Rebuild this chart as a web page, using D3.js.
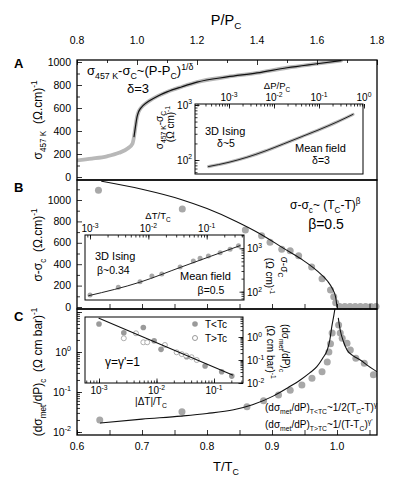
<!DOCTYPE html>
<html>
<head><meta charset="utf-8"></head>
<style>
  html, body { margin: 0; background: #fff; }
  svg { display: block; font-family: "Liberation Sans", Arial, sans-serif; }
</style>
<body>
<svg width="395" height="478"></svg>
<script src="https://cdnjs.cloudflare.com/ajax/libs/d3/7.8.5/d3.min.js"></script>
<script>
// ---- panel A: sigma(457 K) vs P/Pc
const aP   = [0.80, 0.85, 0.90, 0.94, 0.97, 0.985, 0.99, 0.995, 1.0, 1.005, 1.01, 1.02, 1.04, 1.07, 1.10, 1.15, 1.2, 1.3, 1.4, 1.5, 1.6, 1.68];
const aSig = [145, 160, 180, 210, 250, 290, 350, 440, 520, 565, 590, 620, 660, 705, 740, 785, 825, 870, 905, 950, 985, 1012];
// inset A: log-log
const iaDP  = [3.5e-4, 1e-3, 2.5e-3, 6.3e-3, 0.016, 0.04, 0.1, 0.25, 0.57];
const iaSig = [76, 91, 112, 145, 195, 263, 355, 490, 676];

// ---- panel B: sigma - sigma_c vs T/Tc
const bT   = [0.633, 0.762, 0.859, 0.884, 0.897, 0.915, 0.928, 0.941, 0.961, 0.977, 0.990, 0.995, 0.998, 1.004, 1.012, 1.020, 1.028, 1.036, 1.044, 1.052, 1.060];
const bSig = [1090, 915, 720, 665, 605, 540, 525, 480, 375, 265, 160, 95, 40, 5, 5, 5, 5, 5, 5, 5, 5];
const bFitT = [0.638, 0.70, 0.76, 0.80, 0.845, 0.88, 0.918, 0.945, 0.969, 0.985, 0.993, 0.998, 1.0];
const bFitS = [1175, 1100, 1005, 920, 800, 690, 548, 448, 340, 245, 170, 90, 0];
// inset B
const ibDT  = [1e-3, 3.06e-3, 7.2e-3, 0.0115, 0.017, 0.035, 0.059, 0.077, 0.107, 0.17, 0.252, 0.351];
const ibSig = [84, 126, 170, 229, 257, 372, 513, 589, 661, 794, 955, 1148];
const ibFitDT = [9.5e-4, 7.2e-3, 0.037, 0.37];
const ibFitS  = [81, 166, 372, 1148];

// ---- panel C: (dsigma_met/dP)c vs T/Tc
const cT = [0.635, 0.7615, 0.8615, 0.887, 0.91, 0.928, 0.946, 0.9615, 0.977, 0.985, 0.9875, 0.99, 0.9925,
            1.0025, 1.005, 1.008, 1.0154, 1.0205, 1.029, 1.042, 1.056];
const cV = [0.020, 0.032, 0.043, 0.06, 0.084, 0.11, 0.15, 0.22, 0.32, 0.56, 1.0, 1.6, 3.0,
            4.7, 3.0, 2.2, 1.66, 1.12, 0.7, 0.52, 0.27];
const cFitLoT = [0.636, 0.70, 0.76, 0.80, 0.841, 0.87, 0.9025, 0.925, 0.9435, 0.958, 0.969, 0.978, 0.985, 0.989, 0.992, 0.995, 0.9975];
const cFitLoV = [0.0168, 0.021, 0.025, 0.029, 0.036, 0.048, 0.08, 0.13, 0.2, 0.3, 0.43, 0.7, 1.12, 2.0, 4.3, 8, 14];
const cFitHiT = [1.002, 1.005, 1.01, 1.0154, 1.025, 1.0358, 1.048, 1.0615];
const cFitHiV = [7, 3.5, 1.8, 1.12, 0.8, 0.63, 0.45, 0.32];
// inset C
const icLoDT = [1e-3, 2.7e-3, 5.9e-3, 9.1e-3, 0.012, 0.0335, 0.07, 0.136, 0.204];
const icLoV  = [3.7, 1.54, 2.6, 0.69, 0.29, 0.14, 0.055, 0.031, 0.02];
const icHiDT = [2.7e-3, 4.4e-3, 5.9e-3, 6.9e-3, 0.014, 0.0224, 0.0275, 0.0326, 0.0407, 0.05];
const icHiV  = [0.88, 1.45, 0.59, 0.59, 0.45, 0.216, 0.18, 0.155, 0.132, 0.1];
const icFitDT = [1e-3, 0.21];
const icFitV  = [6.5, 0.0224];

const svg = d3.select("svg");
const L = 77, R = 377;
const PA = {top: 60, bottom: 180}, PB = {top: 180, bottom: 309}, PC = {top: 309, bottom: 435};
const GREY = "#a8a8a8";

// scales
const xP = d3.scaleLinear([0.8, 1.8], [L, R]);
const xT = d3.scaleLinear([0.6, 1.0], [L, 337]);
const yA = d3.scaleLinear([0, 1000], [177, 62]);
const yB = d3.scaleLinear([0, 1000], [307, 200]);
const yC = d3.scaleLog([0.01, 10], [432, 312]);

const xIA = d3.scaleLog([1e-3, 1], [229, 364]);
const yIA = d3.scaleLog([100, 1000], [160, 105]);
const xIB = d3.scaleLog([1e-3, 0.1], [90, 206.7]);
const yIB = d3.scaleLog([100, 1000], [291.7, 248.3]);
const xIC = d3.scaleLog([1e-3, 0.1], [99, 214]);
const yIC = d3.scaleLog([0.01, 1], [383, 337]);

// text with sub/superscripts
function rich(g, x, y, parts, fs, anchor, rot) {
  const t = g.append("text").attr("x", x).attr("y", y)
    .attr("font-size", fs).attr("text-anchor", anchor || "start");
  if (rot) t.attr("transform", `rotate(${rot},${x},${y})`);
  let shift = 0;
  parts.forEach(([s, k]) => {
    const target = k === "sub" ? fs * 0.3 : k === "sup" ? -fs * 0.42 : 0;
    t.append("tspan").attr("dy", target - shift)
      .attr("font-size", k ? fs * 0.68 : fs).text(s);
    shift = target;
  });
  return t;
}
const pow10 = e => [["10"], [String(e), "sup"]];

function logVals(lo, hi) {
  const out = [];
  for (let k = Math.floor(Math.log10(lo)); k <= Math.ceil(Math.log10(hi)); k++)
    for (let m = 1; m <= 9; m++) {
      const v = m * Math.pow(10, k);
      if (v >= lo * 0.999 && v <= hi * 1.001) out.push(v);
    }
  return out;
}

function ticks(orient, scale, vals, size, tx, ty) {
  const f = {left: d3.axisLeft, right: d3.axisRight, top: d3.axisTop, bottom: d3.axisBottom}[orient];
  svg.append("g").attr("transform", `translate(${tx},${ty})`)
    .call(f(scale).tickValues(vals).tickSize(-size).tickFormat(""))
    .call(s => s.select(".domain").remove())
    .selectAll("line").attr("stroke", "#000").attr("stroke-width", 0.8);
}

function clip(id, x0, y0, x1, y1) {
  svg.append("clipPath").attr("id", id).append("rect")
    .attr("x", x0).attr("y", y0).attr("width", x1 - x0).attr("height", y1 - y0);
}
clip("cA", L, PA.top, R, PA.bottom);
clip("cB", L, PB.top, R, PB.bottom);
clip("cC", L, PC.top, R, PC.bottom);

function path(g, xs, ys, sx, sy, stroke, w, cl) {
  const line = d3.line().x(d => sx(d[0])).y(d => sy(d[1])).curve(d3.curveMonotoneX);
  const p = g.append("path").datum(d3.zip(xs, ys)).attr("d", line)
    .attr("fill", "none").attr("stroke", stroke).attr("stroke-width", w)
    .attr("stroke-linecap", "round").attr("stroke-linejoin", "round");
  if (cl) p.attr("clip-path", `url(#${cl})`);
  return p;
}
function dots(g, xs, ys, sx, sy, r, fill, stroke) {
  g.append("g").selectAll("circle").data(d3.zip(xs, ys)).join("circle")
    .attr("cx", d => sx(d[0])).attr("cy", d => sy(d[1])).attr("r", r)
    .attr("fill", fill).attr("stroke", stroke || "none").attr("stroke-width", 0.8);
}

// ================= panel A
const gA = svg.append("g");
path(gA, aP, aSig, xP, yA, "#b8b8b8", 3.8, "cA");
const hi = aP.map((p, i) => p >= 0.99 ? i : -1).filter(i => i >= 0);
path(gA, hi.map(i => aP[i]), hi.map(i => aSig[i]), xP, yA, "#111", 1.2, "cA");

ticks("left", yA, d3.range(0, 1001, 200), 5, L, 0);
ticks("left", yA, d3.range(100, 1001, 200), 3, L, 0);
ticks("top", xP, d3.range(0.8, 1.81, 0.2), 5, 0, PA.top);
ticks("top", xP, d3.range(0.9, 1.8, 0.2), 3, 0, PA.top);
d3.range(0, 1001, 200).forEach(v =>
  svg.append("text").attr("x", 71).attr("y", yA(v) + 3.6).attr("text-anchor", "end")
    .attr("font-size", 10.5).text(v));
[0.8, 1.0, 1.2, 1.4, 1.6, 1.8].forEach(v =>
  svg.append("text").attr("x", xP(v)).attr("y", 44).attr("text-anchor", "middle")
    .attr("font-size", 10.5).text(v.toFixed(1)));
rich(svg, 226, 25, [["P/P"], ["C", "sub"]], 14.5, "middle");
rich(svg, 42, 120, [["σ"], ["457 K", "sub"], ["\u00a0\u00a0(Ω.cm)"], ["-1", "sup"]], 12, "middle", -90);
rich(svg, 87, 75, [["σ"], ["457 K", "sub"], ["-σ"], ["C", "sub"], ["~(P-P"], ["C", "sub"], [")"], ["1/δ", "sup"]], 13);
svg.append("text").attr("x", 138).attr("y", 93).attr("text-anchor", "middle").attr("font-size", 13).text("δ=3");

// inset A
svg.append("rect").attr("x", 195).attr("y", 104).attr("width", 168).attr("height", 70)
  .attr("fill", "#fff").attr("stroke", "#000").attr("stroke-width", 1);
path(svg, iaDP, iaSig, xIA, yIA, "#b8b8b8", 3.2);
path(svg, iaDP, iaSig, xIA, yIA, "#222", 1.0);
ticks("top", xIA, logVals(2e-4, 1), 2.5, 0, 104);
ticks("top", xIA, [1e-3, 1e-2, 1e-1, 1], 4.5, 0, 104);
ticks("left", yIA, logVals(60, 1000), 2.5, 195, 0);
ticks("left", yIA, [100, 1000], 4.5, 195, 0);
[-3, -2, -1, 0].forEach(e => rich(svg, xIA(Math.pow(10, e)), 101, pow10(e), 10, "middle"));
rich(svg, 192, 108.5, pow10(3), 10, "end");
rich(svg, 192, 163.5, pow10(2), 10, "end");
rich(svg, 277, 89, [["ΔP/P"], ["C", "sub"]], 9.5, "middle");
rich(svg, 163, 130, [["σ"], ["457 K", "sub"], ["-σ"], ["C", "sub"]], 10, "middle", -90);
rich(svg, 174, 124, [["(Ω cm)"], ["-1", "sup"]], 10, "middle", -90);
svg.append("text").attr("x", 205).attr("y", 135).attr("font-size", 11).text("3D Ising");
svg.append("text").attr("x", 226).attr("y", 147).attr("font-size", 10.5).attr("text-anchor", "middle").text("δ~5");
svg.append("text").attr("x", 295).attr("y", 152).attr("font-size", 11).text("Mean field");
svg.append("text").attr("x", 321).attr("y", 164).attr("font-size", 10.5).attr("text-anchor", "middle").text("δ=3");

// ================= panel B
const gB = svg.append("g");
dots(gB, bT, bSig, xT, yB, 3.5, GREY);
path(gB, bFitT, bFitS, xT, yB, "#111", 1.1, "cB");
ticks("left", yB, d3.range(0, 1001, 200), 5, L, 0);
ticks("left", yB, d3.range(100, 1101, 200), 3, L, 0);
ticks("bottom", xT, d3.range(0.65, 1.06, 0.05), 5, 0, PB.bottom);
d3.range(0, 1001, 200).forEach(v =>
  svg.append("text").attr("x", 71).attr("y", yB(v) + 3.6).attr("text-anchor", "end")
    .attr("font-size", 10.5).text(v));
rich(svg, 42, 245, [["σ-σ"], ["c", "sub"], ["\u00a0\u00a0(Ω.cm)"], ["-1", "sup"]], 12, "middle", -90);
rich(svg, 290, 209, [["σ-σ"], ["c", "sub"], ["~ (T"], ["C", "sub"], ["-T)"], ["β", "sup"]], 12);
svg.append("text").attr("x", 326).attr("y", 229).attr("text-anchor", "middle").attr("font-size", 14).text("β=0.5");

// inset B
svg.append("rect").attr("x", 85).attr("y", 235).attr("width", 159).attr("height", 65)
  .attr("fill", "#fff").attr("stroke", "#000").attr("stroke-width", 1);
dots(svg, ibDT, ibSig, xIB, yIB, 2.5, GREY);
path(svg, ibFitDT, ibFitS, xIB, yIB, "#222", 1.0);
ticks("top", xIB, logVals(9e-4, 0.43), 2.5, 0, 235);
ticks("top", xIB, [1e-3, 1e-2, 1e-1], 4.5, 0, 235);
ticks("right", yIB, logVals(70, 2000), 2.5, 244, 0);
ticks("right", yIB, [100, 1000], 4.5, 244, 0);
[-3, -2, -1].forEach(e => rich(svg, xIB(Math.pow(10, e)), 232, pow10(e), 10, "middle"));
rich(svg, 247, 252, pow10(3), 10, "start");
rich(svg, 247, 296, pow10(2), 10, "start");
rich(svg, 158, 219, [["ΔT/T"], ["C", "sub"]], 9.5, "middle");
rich(svg, 266, 276, [["(Ω cm)"], ["-1", "sup"]], 10, "middle", 90);
rich(svg, 281, 267, [["σ-σ"], ["C", "sub"]], 10, "middle", 90);
svg.append("text").attr("x", 95).attr("y", 260).attr("font-size", 11).text("3D Ising");
svg.append("text").attr("x", 97).attr("y", 274).attr("font-size", 10.5).text("β~0.34");
svg.append("text").attr("x", 180).attr("y", 280).attr("font-size", 11).text("Mean field");
svg.append("text").attr("x", 211).attr("y", 294).attr("font-size", 10.5).attr("text-anchor", "middle").text("β=0.5");

// ================= panel C
const gC = svg.append("g");
dots(gC, cT, cV, xT, yC, 3.5, GREY);
path(gC, cFitLoT, cFitLoV, xT, yC, "#111", 1.1, "cC");
path(gC, cFitHiT, cFitHiV, xT, yC, "#111", 1.1, "cC");
ticks("left", yC, logVals(0.0095, 12), 3, L, 0);
ticks("left", yC, [0.01, 0.1, 1, 10], 5, L, 0);
ticks("bottom", xT, d3.range(0.6, 1.06, 0.05), 5, 0, PC.bottom);
[[0.01, -2], [0.1, -1], [1, 0]].forEach(([v, e]) => rich(svg, 71, yC(v) + 3.6, pow10(e), 10.5, "end"));
[0.6, 0.7, 0.8, 0.9, 1.0].forEach(v =>
  svg.append("text").attr("x", xT(v)).attr("y", 450).attr("text-anchor", "middle")
    .attr("font-size", 10.5).text(v.toFixed(1)));
rich(svg, 226, 471, [["T/T"], ["C", "sub"]], 13, "middle");
rich(svg, 42, 372, [["(dσ"], ["met", "sub"], ["/dP)"], ["c", "sub"], ["\u00a0\u00a0(Ω cm bar)"], ["-1", "sup"]], 12, "middle", -90);
rich(svg, 265, 411, [["(dσ"], ["met", "sub"], ["/dP)"], ["T<TC", "sub"], ["~1/2(T"], ["C", "sub"], ["-T)"], ["γ", "sup"]], 10);
rich(svg, 265, 428, [["(dσ"], ["met", "sub"], ["/dP)"], ["T>TC", "sub"], ["~1/(T-T"], ["C", "sub"], [")"], ["γ'", "sup"]], 10);

// inset C
svg.append("rect").attr("x", 85).attr("y", 317).attr("width", 158).attr("height", 66)
  .attr("fill", "#fff").attr("stroke", "#000").attr("stroke-width", 1);
dots(svg, icLoDT, icLoV, xIC, yIC, 2.8, "#9a9a9a");
dots(svg, icHiDT, icHiV, xIC, yIC, 2.5, "#fff", "#9a9a9a");
path(svg, icFitDT, icFitV, xIC, yIC, "#111", 1.1);
ticks("bottom", xIC, logVals(6e-4, 0.3), 2.5, 0, 383);
ticks("bottom", xIC, [1e-3, 1e-2, 1e-1], 4.5, 0, 383);
ticks("right", yIC, logVals(0.01, 7), 2.5, 243, 0);
ticks("right", yIC, [0.01, 0.1, 1], 4.5, 243, 0);
[-3, -2, -1].forEach(e => rich(svg, xIC(Math.pow(10, e)), 394, pow10(e), 10, "middle"));
[[1, 0], [0.1, -1], [0.01, -2]].forEach(([v, e]) => rich(svg, 247, yIC(v) + 4, pow10(e), 10, "start"));
rich(svg, 151, 405, [["|ΔT|/T"], ["C", "sub"]], 10, "middle");
rich(svg, 282, 348, [["(dσ"], ["met", "sub"], ["/dP)"], ["c", "sub"]], 10, "middle", 90);
rich(svg, 267, 352, [["(Ω cm bar)"], ["-1", "sup"]], 10, "middle", 90);
svg.append("circle").attr("cx", 195).attr("cy", 324).attr("r", 2.8).attr("fill", "#9a9a9a");
svg.append("circle").attr("cx", 195).attr("cy", 338).attr("r", 2.5).attr("fill", "#fff").attr("stroke", "#9a9a9a");
svg.append("text").attr("x", 205).attr("y", 328).attr("font-size", 10).text("T<Tc");
svg.append("text").attr("x", 205).attr("y", 342).attr("font-size", 10).text("T>Tc");
svg.append("text").attr("x", 105).attr("y", 366).attr("font-size", 12).text("γ=γ'=1");

// main frames + panel letters
[PA, PB, PC].forEach(p =>
  svg.append("rect").attr("x", L).attr("y", p.top).attr("width", R - L).attr("height", p.bottom - p.top)
    .attr("fill", "none").attr("stroke", "#000").attr("stroke-width", 1.3));
[["A", 63], ["B", 187], ["C", 316]].forEach(([s, y]) =>
  svg.append("text").attr("x", 14).attr("y", y + 5).attr("font-size", 13).attr("font-weight", "bold").text(s));
</script>
</body>
</html>
